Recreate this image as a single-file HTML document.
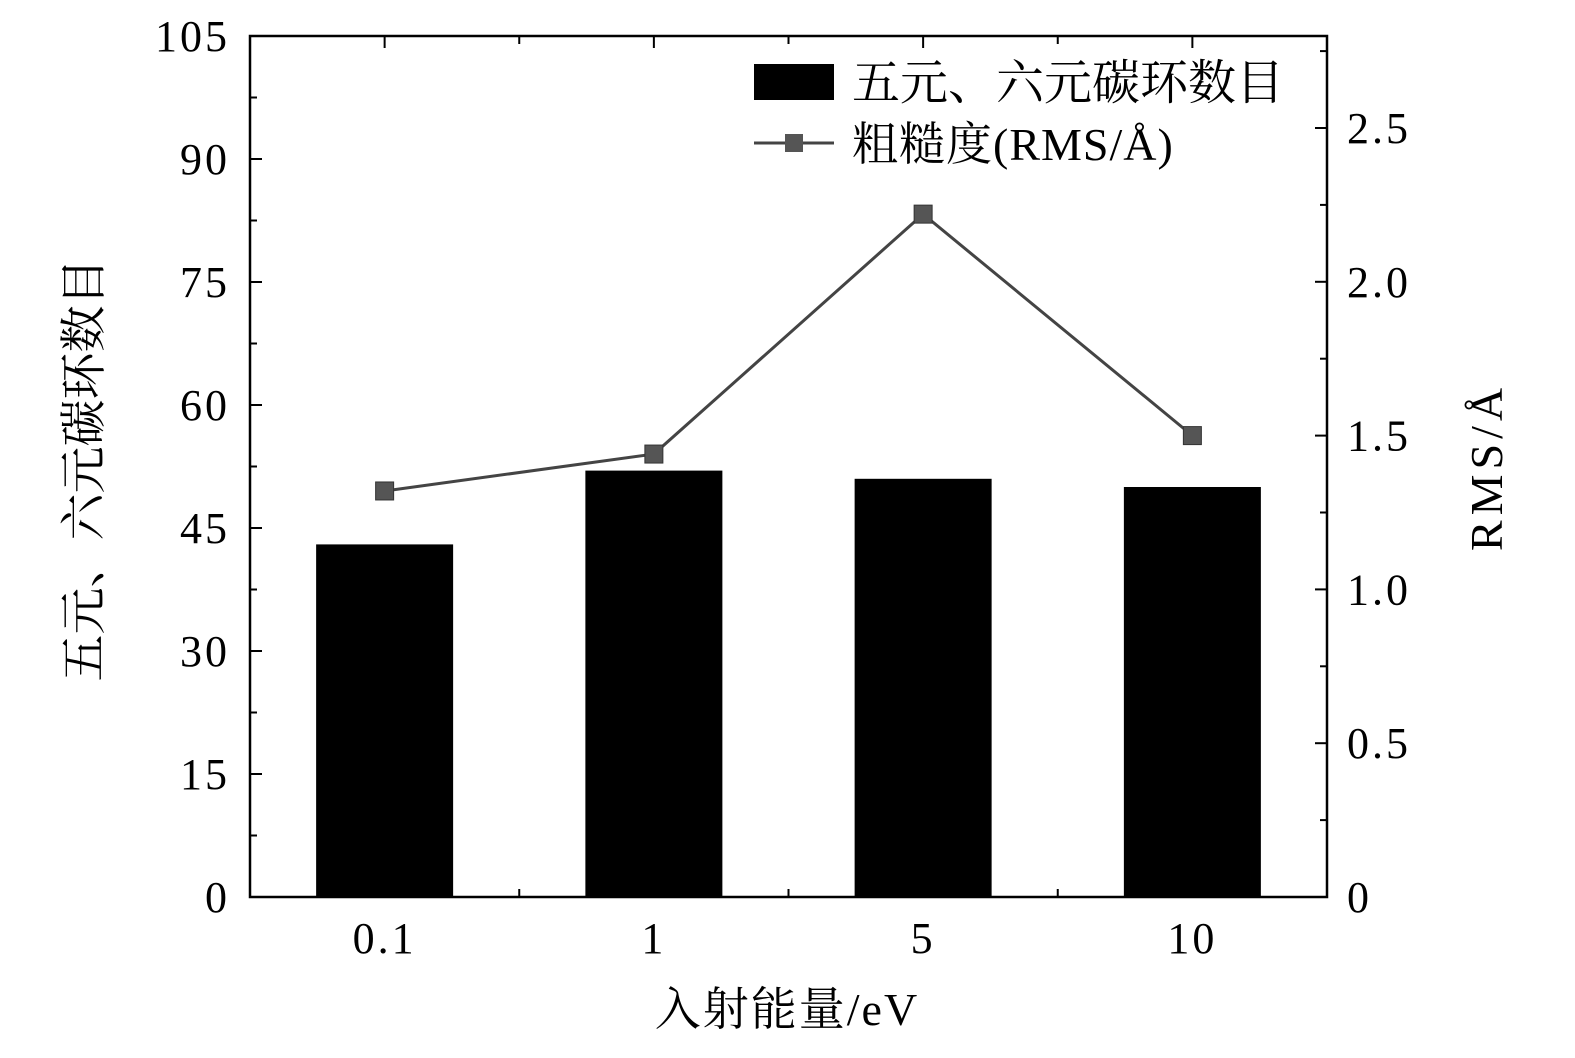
<!DOCTYPE html>
<html><head><meta charset="utf-8"><style>
body{margin:0;background:#fff}
text{font-family:"Liberation Serif","Noto Serif CJK SC","Noto Sans CJK SC",serif;fill:#000}
.num{font-size:44px;letter-spacing:3px}
</style></head><body>
<svg id="chart" width="1575" height="1053" xmlns="http://www.w3.org/2000/svg"></svg>
<script>
const categories=["0.1","1","5","10"];
const ringCounts=[43,52,51,50];
const rmsValues=[1.32,1.44,2.22,1.5];
const leftTicks=[0,15,30,45,60,75,90,105];
const rightTicks=["0","0.5","1.0","1.5","2.0","2.5"];
const rightTickVals=[0,0.5,1.0,1.5,2.0,2.5];
const svg=document.getElementById('chart');
const NS="http://www.w3.org/2000/svg";
const L=250,R=1327,T=36,B=897;
const band=(R-L)/categories.length;
const xC=i=>L+band*(i+0.5);
const yL=v=>B-(B-T)*v/105;
const yR=v=>B-(v/0.5)*153.8;
function el(tag,attrs,txt){const e=document.createElementNS(NS,tag);for(const k in attrs)e.setAttribute(k,attrs[k]);if(txt!=null)e.textContent=txt;svg.appendChild(e);return e;}
ringCounts.forEach((v,i)=>{const r=el('rect',{x:xC(i)-68.5,y:yL(v),width:137,height:B-yL(v),fill:'#000'});

});
const pts=rmsValues.map((v,i)=>xC(i)+','+yR(v)).join(' ');
const pl=el('polyline',{points:pts,fill:'none',stroke:'#444','stroke-width':3});


rmsValues.forEach((v,i)=>{const m=el('rect',{x:xC(i)-9,y:yR(v)-9,width:18,height:18,fill:'#555',stroke:'#333','stroke-width':1});

});
const fr=el('rect',{x:L,y:T,width:R-L,height:B-T,fill:'none',stroke:'#000','stroke-width':2.5});


for(let v=0;v<=105;v+=7.5){const maj=v%15===0;el('line',{x1:L,x2:L+(maj?12:7),y1:yL(v),y2:yL(v),stroke:'#000','stroke-width':2});}
leftTicks.forEach(v=>{const t=el('text',{x:L-20,y:yL(v)+15,'text-anchor':'end','class':'num'},String(v));

});
for(let v=0;v<=2.75;v+=0.25){const maj=Math.abs(v*2-Math.round(v*2))<1e-6;el('line',{x1:R,x2:R-(maj?12:7),y1:yR(v),y2:yR(v),stroke:'#000','stroke-width':2});}
rightTickVals.forEach((v,i)=>{const t=el('text',{x:R+20,y:yR(v)+15,'class':'num'},rightTicks[i]);

});
for(let i=1;i<categories.length;i++){el('line',{x1:L+band*i,x2:L+band*i,y1:B,y2:B-8,stroke:'#000','stroke-width':2});el('line',{x1:L+band*i,x2:L+band*i,y1:T,y2:T+8,stroke:'#000','stroke-width':2});}
categories.forEach((c,i)=>{el('line',{x1:xC(i),x2:xC(i),y1:T,y2:T+12,stroke:'#000','stroke-width':2});
const t=el('text',{x:xC(i),y:953,'text-anchor':'middle','class':'num'},c);

});
let t=el('text',{x:787,y:1025,'text-anchor':'middle','font-size':46,'letter-spacing':2},'入射能量/eV');

t=el('text',{x:0,y:0,'text-anchor':'middle','font-size':47,transform:'translate(100,470) rotate(-90)'},'五元、六元碳环数目');

t=el('text',{x:0,y:0,'text-anchor':'middle','font-size':46,'letter-spacing':5,transform:'translate(1502,467) rotate(-90)'},'RMS/Å');

let r=el('rect',{x:754,y:64,width:80,height:36,fill:'#000'});

t=el('text',{x:852,y:99,'font-size':48},'五元、六元碳环数目');

el('line',{x1:754,x2:834,y1:143,y2:143,stroke:'#444','stroke-width':3});
el('rect',{x:785,y:134,width:18,height:18,fill:'#555'});
t=el('text',{x:852,y:160,'font-size':46,'letter-spacing':1},'粗糙度(RMS/Å)');

</script>
</body></html>
